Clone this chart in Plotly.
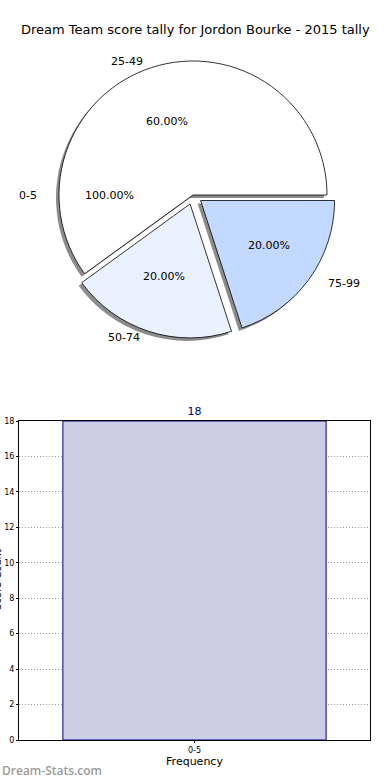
import math
import plotly.graph_objects as go

# ---------------- data ----------------
title_text = "Dream Team score tally for Jordon Bourke - 2015 tally"
pie_labels = ["25-49", "50-74", "75-99"]
pie_values = [60, 20, 20]
pie_colors = ["#ffffff", "#eaf1ff", "#c4d9ff"]
pie_pull = [0.0, 0.07, 0.07]
odd_label = "0-5"
odd_pct = "100.00%"

bar_categories = ["0-5"]
bar_values = [18]
y_ticks = [0, 2, 4, 6, 8, 10, 12, 14, 16, 18]

W, H = 390, 780
# pie geometry (pixels)
cx, cy = 193, 195
r_pie = 134
max_pull = max(pie_pull)
half = r_pie * (1 + max_pull)

fig = go.Figure()

def pie_domain(dx=0, dy=0):
    return dict(x=[(cx + dx - half) / W, (cx + dx + half) / W],
                y=[1 - (cy + dy + half) / H, 1 - (cy + dy - half) / H])

# plotly counterclockwise: first slice ends at the rotation angle
rot = 90 - 360 * pie_values[0] / sum(pie_values)

# shadow
fig.add_trace(go.Pie(
    labels=pie_labels, values=pie_values, sort=False, direction="counterclockwise",
    rotation=rot, pull=pie_pull, domain=pie_domain(-3, 3),
    marker=dict(colors=["rgba(0,0,0,0.45)"] * 3, line=dict(width=0)),
    textinfo="none", hoverinfo="skip", showlegend=False,
))
# pie
fig.add_trace(go.Pie(
    labels=pie_labels, values=pie_values, sort=False, direction="counterclockwise",
    rotation=rot, pull=pie_pull, domain=pie_domain(),
    marker=dict(colors=pie_colors, line=dict(color="black", width=0.8)),
    textinfo="none", showlegend=False,
))

# bar chart
fig.add_trace(go.Bar(
    x=bar_categories, y=bar_values, width=0.75,
    marker=dict(color="#cdcde5", line=dict(color="#000080", width=1)),
    text=[str(v) for v in bar_values], textposition="outside",
    textfont=dict(color="#000080", size=11), cliponaxis=False, showlegend=False,
))

annotations = []
# pie labels / percentages, placed like matplotlib (pctdistance 0.6, labeldistance 1.1)
rx, ry = 140, 128
total = sum(pie_values)
start = 0.0
for lab, val, pull in zip(pie_labels, pie_values, pie_pull):
    ang = start + 360 * val / total / 2
    start += 360 * val / total
    a = math.radians(ang)
    ox, oy = math.cos(a) * pull * rx, -math.sin(a) * pull * ry
    px = cx + ox + 0.6 * rx * math.cos(a)
    py = cy + oy - 0.6 * ry * math.sin(a)
    annotations.append(dict(x=px / W, y=1 - py / H, xref="paper", yref="paper",
                            text=f"{val / total * 100:.2f}%", showarrow=False,
                            xanchor="center", yanchor="middle",
                            font=dict(size=11, color="black")))
    lx = cx + ox + 1.1 * rx * math.cos(a)
    ly = cy + oy - 1.1 * ry * math.sin(a)
    annotations.append(dict(x=lx / W, y=1 - ly / H, xref="paper", yref="paper",
                            text=lab, showarrow=False, yanchor="middle",
                            xanchor="left" if math.cos(a) > 0 else "right",
                            font=dict(size=11, color="black")))
# odd "0-5" label at 180 degrees
a = math.radians(180)
annotations.append(dict(x=(cx + 0.6 * rx * math.cos(a)) / W, y=1 - cy / H, xref="paper", yref="paper",
                        text=odd_pct, showarrow=False, xanchor="center", yanchor="middle",
                        font=dict(size=11, color="black")))
annotations.append(dict(x=(cx + 1.1 * rx * math.cos(a)) / W, y=1 - cy / H, xref="paper", yref="paper",
                        text=odd_label, showarrow=False, xanchor="right", yanchor="middle",
                        font=dict(size=11, color="black")))
# title
annotations.append(dict(x=195 / W, y=1 - 30 / H, xref="paper", yref="paper", text=title_text,
                        showarrow=False, xanchor="center", yanchor="middle",
                        font=dict(size=13, color="black")))
# clipped y-axis title
annotations.append(dict(x=-3 / W, y=1 - 580 / H, xref="paper", yref="paper", text="Score Count",
                        textangle=-90, showarrow=False, xanchor="center", yanchor="middle",
                        font=dict(size=10, color="black")))
# watermark
annotations.append(dict(x=0, y=1 - 770 / H, xref="paper", yref="paper", text="Dream-Stats.com",
                        showarrow=False, xanchor="left", yanchor="middle",
                        font=dict(size=12, color="#9a9a9a", family="Open Sans", weight=600)))

grid_style = dict(showgrid=True, gridcolor="#9a9a9a", griddash="1px,2px", gridwidth=1)

fig.update_layout(
    width=W, height=H, margin=dict(l=0, r=0, t=0, b=0, autoexpand=False),
    paper_bgcolor="white", plot_bgcolor="white",
    font=dict(family="DejaVu Sans", color="black"),
    annotations=annotations,
    xaxis=dict(domain=[19 / W, 370 / W], type="category", range=[-0.5, 0.5], automargin=False,
               showline=True, mirror=True, linecolor="black", linewidth=1, **grid_style,
               ticks="outside", ticklen=2, tickcolor="black", tickfont=dict(size=8),
               title=dict(text="Frequency", font=dict(size=11), standoff=2)),
    yaxis=dict(domain=[1 - 740 / H, 1 - 421 / H], range=[0, 18], tickvals=y_ticks, automargin=False,
               showline=True, mirror=True, linecolor="black", linewidth=1, **grid_style,
               zeroline=False, ticks="outside", ticklen=2, tickcolor="black",
               tickfont=dict(size=8)),
)

# remove the browser's default 8px body margin so the figure sits at the page origin
fig.write_html("out.html", config={"displayModeBar": False},
               post_script="document.body.style.margin='0';")
